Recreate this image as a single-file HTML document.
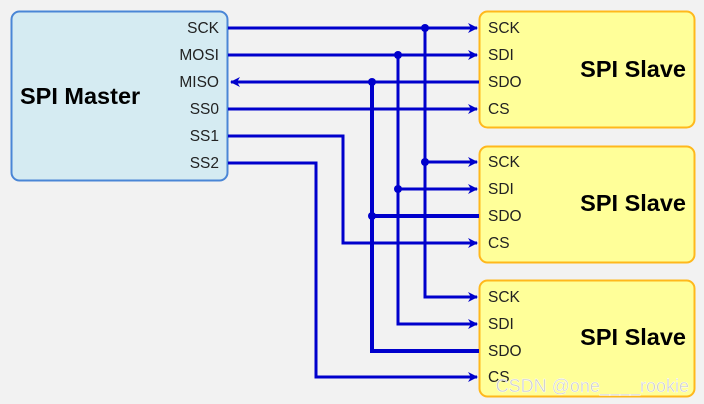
<!DOCTYPE html>
<html><head><meta charset="utf-8"><style>
html,body{margin:0;padding:0;background:#f2f2f2;}
svg{display:block;font-family:"Liberation Sans",Arial,sans-serif;}
</style></head><body>
<svg width="704" height="404" viewBox="0 0 704 404" xmlns="http://www.w3.org/2000/svg">
<defs>
<marker id="a" markerWidth="10" markerHeight="10" refX="9" refY="5" orient="auto" markerUnits="userSpaceOnUse">
<path d="M0,0 L10,5 L0,10 L3,5 Z" fill="#0000cc"/></marker>
</defs>
<rect width="704" height="404" fill="#f2f2f2"/>
<rect x="11.5" y="11.5" width="216" height="169" rx="8" fill="#d5ebf2" stroke="#4a86d6" stroke-width="2"/>
<text x="20" y="104" font-size="23.5" font-weight="bold" fill="#000">SPI Master</text>
<g font-size="15.5" fill="#222" text-anchor="end">
<text x="219" y="33">SCK</text><text x="219" y="60">MOSI</text><text x="219" y="87">MISO</text>
<text x="219" y="114">SS0</text><text x="219" y="141">SS1</text><text x="219" y="168">SS2</text>
</g>
<g fill="#ffff99" stroke="#ffb81c" stroke-width="2">
<rect x="479.5" y="11.5" width="215" height="116" rx="8"/>
<rect x="479.5" y="146.5" width="215" height="116" rx="8"/>
<rect x="479.5" y="280.5" width="215" height="116" rx="8"/>
</g>
<g font-size="23.5" font-weight="bold" fill="#000" text-anchor="end">
<text x="686" y="77">SPI Slave</text><text x="686" y="211">SPI Slave</text><text x="686" y="345">SPI Slave</text>
</g>
<g font-size="15.5" fill="#222">
<text x="488" y="33">SCK</text><text x="488" y="60">SDI</text><text x="488" y="87">SDO</text><text x="488" y="114">CS</text>
<text x="488" y="167">SCK</text><text x="488" y="194">SDI</text><text x="488" y="221">SDO</text><text x="488" y="248">CS</text>
<text x="488" y="302">SCK</text><text x="488" y="329">SDI</text><text x="488" y="356">SDO</text><text x="488" y="382">CS</text>
</g>
<g stroke="#0000cc" stroke-width="3" fill="none">
<line x1="228" y1="28" x2="477" y2="28" marker-end="url(#a)"/>
<line x1="228" y1="55" x2="477" y2="55" marker-end="url(#a)"/>
<line x1="479" y1="82" x2="231" y2="82" marker-end="url(#a)"/>
<line x1="228" y1="109" x2="477" y2="109" marker-end="url(#a)"/>
<polyline points="228,136 343,136 343,243 477,243" marker-end="url(#a)"/>
<polyline points="228,163 316,163 316,377 477,377" marker-end="url(#a)"/>
<polyline points="425,28 425,297 477,297" marker-end="url(#a)"/>
<line x1="425" y1="162" x2="477" y2="162" marker-end="url(#a)"/>
<polyline points="398,55 398,324 477,324" marker-end="url(#a)"/>
<line x1="398" y1="189" x2="477" y2="189" marker-end="url(#a)"/>
</g>
<g stroke="#0000cc" stroke-width="4" fill="none">
<polyline points="372,82 372,351 479,351"/>
<line x1="372" y1="216" x2="479" y2="216"/>
</g>
<g fill="#0000cc">
<circle cx="425" cy="28" r="4"/><circle cx="398" cy="55" r="4"/><circle cx="372" cy="82" r="4"/>
<circle cx="425" cy="162" r="4"/><circle cx="398" cy="189" r="4"/><circle cx="372" cy="216" r="4"/>
</g>
<text x="689" y="392" font-size="18" fill="#cfcfcf" stroke="#ffffff" stroke-width="0.4" text-anchor="end">CSDN @one____rookie</text>
</svg>
</body></html>
